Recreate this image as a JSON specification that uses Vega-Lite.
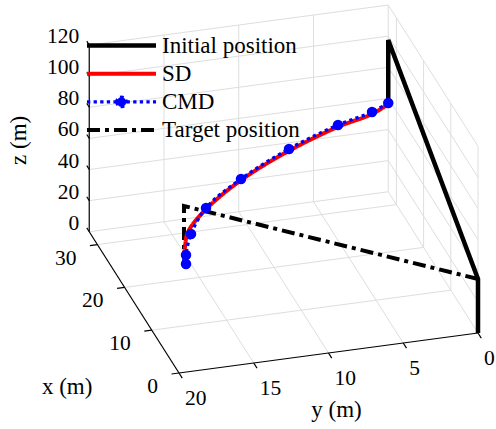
{
  "$schema": "https://vega.github.io/schema/vega-lite/v6.json",
  "width": 496,
  "height": 429,
  "padding": 0,
  "autosize": {"type": "none"},
  "background": "white",
  "config": {"view": {"stroke": null}, "font": "Liberation Serif"},
  "datasets": {
    "grid": [
      {"x1": 10, "y1": 0, "z1": 0, "x2": 10, "y2": 20, "z2": 0},
      {"x1": 20, "y1": 0, "z1": 0, "x2": 20, "y2": 20, "z2": 0},
      {"x1": 30, "y1": 0, "z1": 0, "x2": 30, "y2": 20, "z2": 0},
      {"x1": 0, "y1": 0, "z1": 0, "x2": 33, "y2": 0, "z2": 0},
      {"x1": 0, "y1": 5, "z1": 0, "x2": 33, "y2": 5, "z2": 0},
      {"x1": 0, "y1": 10, "z1": 0, "x2": 33, "y2": 10, "z2": 0},
      {"x1": 0, "y1": 15, "z1": 0, "x2": 33, "y2": 15, "z2": 0},
      {"x1": 33, "y1": 0, "z1": 0, "x2": 33, "y2": 20, "z2": 0},
      {"x1": 33, "y1": 0, "z1": 20, "x2": 33, "y2": 20, "z2": 20},
      {"x1": 33, "y1": 0, "z1": 40, "x2": 33, "y2": 20, "z2": 40},
      {"x1": 33, "y1": 0, "z1": 60, "x2": 33, "y2": 20, "z2": 60},
      {"x1": 33, "y1": 0, "z1": 80, "x2": 33, "y2": 20, "z2": 80},
      {"x1": 33, "y1": 0, "z1": 100, "x2": 33, "y2": 20, "z2": 100},
      {"x1": 33, "y1": 0, "z1": 120, "x2": 33, "y2": 20, "z2": 120},
      {"x1": 33, "y1": 0, "z1": 0, "x2": 33, "y2": 0, "z2": 120},
      {"x1": 33, "y1": 5, "z1": 0, "x2": 33, "y2": 5, "z2": 120},
      {"x1": 33, "y1": 10, "z1": 0, "x2": 33, "y2": 10, "z2": 120},
      {"x1": 33, "y1": 15, "z1": 0, "x2": 33, "y2": 15, "z2": 120},
      {"x1": 0, "y1": 0, "z1": 20, "x2": 33, "y2": 0, "z2": 20},
      {"x1": 0, "y1": 0, "z1": 40, "x2": 33, "y2": 0, "z2": 40},
      {"x1": 0, "y1": 0, "z1": 60, "x2": 33, "y2": 0, "z2": 60},
      {"x1": 0, "y1": 0, "z1": 80, "x2": 33, "y2": 0, "z2": 80},
      {"x1": 0, "y1": 0, "z1": 100, "x2": 33, "y2": 0, "z2": 100},
      {"x1": 0, "y1": 0, "z1": 120, "x2": 33, "y2": 0, "z2": 120},
      {"x1": 0, "y1": 0, "z1": 0, "x2": 0, "y2": 0, "z2": 120},
      {"x1": 10, "y1": 0, "z1": 0, "x2": 10, "y2": 0, "z2": 120},
      {"x1": 20, "y1": 0, "z1": 0, "x2": 20, "y2": 0, "z2": 120},
      {"x1": 30, "y1": 0, "z1": 0, "x2": 30, "y2": 0, "z2": 120}
    ],
    "axes": [
      {"x1": 33, "y1": 20, "z1": 0, "x2": 33, "y2": 20, "z2": 120},
      {"x1": 0, "y1": 20, "z1": 0, "x2": 33, "y2": 20, "z2": 0},
      {"x1": 0, "y1": 0, "z1": 0, "x2": 0, "y2": 20, "z2": 0},
      {"x1": 33, "y1": 20, "z1": 0, "x2": 33.9, "y2": 20, "z2": 0},
      {"x1": 33, "y1": 20, "z1": 20, "x2": 33.9, "y2": 20, "z2": 20},
      {"x1": 33, "y1": 20, "z1": 40, "x2": 33.9, "y2": 20, "z2": 40},
      {"x1": 33, "y1": 20, "z1": 60, "x2": 33.9, "y2": 20, "z2": 60},
      {"x1": 33, "y1": 20, "z1": 80, "x2": 33.9, "y2": 20, "z2": 80},
      {"x1": 33, "y1": 20, "z1": 100, "x2": 33.9, "y2": 20, "z2": 100},
      {"x1": 33, "y1": 20, "z1": 120, "x2": 33.9, "y2": 20, "z2": 120},
      {"x1": 0, "y1": 20, "z1": 0, "x2": 0, "y2": 20.5, "z2": 0},
      {"x1": 10, "y1": 20, "z1": 0, "x2": 10, "y2": 20.5, "z2": 0},
      {"x1": 20, "y1": 20, "z1": 0, "x2": 20, "y2": 20.5, "z2": 0},
      {"x1": 30, "y1": 20, "z1": 0, "x2": 30, "y2": 20.5, "z2": 0},
      {"x1": 0, "y1": 0, "z1": 0, "x2": -1.2, "y2": 0, "z2": 0},
      {"x1": 0, "y1": 5, "z1": 0, "x2": -1.2, "y2": 5, "z2": 0},
      {"x1": 0, "y1": 10, "z1": 0, "x2": -1.2, "y2": 10, "z2": 0},
      {"x1": 0, "y1": 15, "z1": 0, "x2": -1.2, "y2": 15, "z2": 0},
      {"x1": 0, "y1": 20, "z1": 0, "x2": -1.2, "y2": 20, "z2": 0}
    ],
    "zticks": [
      {"x": 33, "y": 20, "z": 0, "label": "0"},
      {"x": 33, "y": 20, "z": 20, "label": "20"},
      {"x": 33, "y": 20, "z": 40, "label": "40"},
      {"x": 33, "y": 20, "z": 60, "label": "60"},
      {"x": 33, "y": 20, "z": 80, "label": "80"},
      {"x": 33, "y": 20, "z": 100, "label": "100"},
      {"x": 33, "y": 20, "z": 120, "label": "120"}
    ],
    "xticks": [
      {"x": 0, "y": 20, "z": 0, "label": "0"},
      {"x": 10, "y": 20, "z": 0, "label": "10"},
      {"x": 20, "y": 20, "z": 0, "label": "20"},
      {"x": 30, "y": 20, "z": 0, "label": "30"}
    ],
    "yticks": [
      {"x": 0, "y": 0, "z": 0, "label": "0"},
      {"x": 0, "y": 5, "z": 0, "label": "5"},
      {"x": 0, "y": 10, "z": 0, "label": "10"},
      {"x": 0, "y": 15, "z": 0, "label": "15"},
      {"x": 0, "y": 20, "z": 0, "label": "20"}
    ],
    "paths": [
      {"series": "Initial position", "i": 0, "x": 0, "y": 0, "z": 0},
      {"series": "Initial position", "i": 1, "x": 0, "y": 0, "z": 34.7},
      {"series": "Initial position", "i": 2, "x": 33, "y": 0, "z": 97.5},
      {"series": "Initial position", "i": 3, "x": 33, "y": 0, "z": 57.0},
      {"series": "Target position", "i": 0, "x": 0, "y": 0, "z": 34.7},
      {"series": "Target position", "i": 1, "x": 19, "y": 16.21, "z": 50.2},
      {"series": "Target position", "i": 2, "x": 19, "y": 16.21, "z": 14},
      {"series": "SD", "i": 0, "x": 33, "y": 0.1, "z": 55.8},
      {"series": "SD", "i": 1, "x": 32, "y": 1.268, "z": 54.3},
      {"series": "SD", "i": 2, "x": 31, "y": 3.724, "z": 52.0},
      {"series": "SD", "i": 3, "x": 30, "y": 7.184, "z": 43.8},
      {"series": "SD", "i": 4, "x": 28, "y": 10.758, "z": 35.0},
      {"series": "SD", "i": 5, "x": 25, "y": 13.645, "z": 28.3},
      {"series": "SD", "i": 6, "x": 22, "y": 15.395, "z": 24.2},
      {"series": "SD", "i": 7, "x": 20, "y": 15.96, "z": 20.8},
      {"series": "SD", "i": 8, "x": 19, "y": 16.209, "z": 15.5},
      {"series": "CMD", "i": 0, "x": 33, "y": 0, "z": 57.0},
      {"series": "CMD", "i": 1, "x": 32, "y": 1.268, "z": 55.6},
      {"series": "CMD", "i": 2, "x": 31, "y": 3.724, "z": 53.2},
      {"series": "CMD", "i": 3, "x": 30, "y": 7.184, "z": 45.0},
      {"series": "CMD", "i": 4, "x": 28, "y": 10.758, "z": 35.8},
      {"series": "CMD", "i": 5, "x": 25, "y": 13.645, "z": 29.1},
      {"series": "CMD", "i": 6, "x": 22, "y": 15.195, "z": 22.6},
      {"series": "CMD", "i": 7, "x": 20, "y": 15.893, "z": 15.5},
      {"series": "CMD", "i": 8, "x": 19, "y": 16.075, "z": 12.7}
    ]
  },
  "layer": [
    {
      "data": {"name": "grid"},
      "transform": [
        {"calculate": "-2.72*datum.x1 - 14.95*datum.y1", "as": "u1"},
        {"calculate": "4.28*datum.x1 - 2*datum.y1 + 1.556*datum.z1", "as": "v1"},
        {"calculate": "-2.72*datum.x2 - 14.95*datum.y2", "as": "u2"},
        {"calculate": "4.28*datum.x2 - 2*datum.y2 + 1.556*datum.z2", "as": "v2"}
      ],
      "mark": {"type": "rule", "stroke": "#dedede", "strokeWidth": 1},
      "encoding": {
        "x": {"field": "u1", "type": "quantitative", "scale": {"domain": [-478, 18], "nice": false, "zero": false}, "axis": null},
        "y": {"field": "v1", "type": "quantitative", "scale": {"domain": [-96, 333], "nice": false, "zero": false}, "axis": null},
        "x2": {"field": "u2"},
        "y2": {"field": "v2"}
      }
    },
    {
      "data": {"name": "axes"},
      "transform": [
        {"calculate": "-2.72*datum.x1 - 14.95*datum.y1", "as": "u1"},
        {"calculate": "4.28*datum.x1 - 2*datum.y1 + 1.556*datum.z1", "as": "v1"},
        {"calculate": "-2.72*datum.x2 - 14.95*datum.y2", "as": "u2"},
        {"calculate": "4.28*datum.x2 - 2*datum.y2 + 1.556*datum.z2", "as": "v2"}
      ],
      "mark": {"type": "rule", "stroke": "black", "strokeWidth": 1.2},
      "encoding": {
        "x": {"field": "u1", "type": "quantitative"},
        "y": {"field": "v1", "type": "quantitative"},
        "x2": {"field": "u2"},
        "y2": {"field": "v2"}
      }
    },
    {
      "data": {"name": "zticks"},
      "transform": [
        {"calculate": "-2.72*datum.x - 14.95*datum.y", "as": "u"},
        {"calculate": "4.28*datum.x - 2*datum.y + 1.556*datum.z", "as": "v"}
      ],
      "mark": {"type": "text", "align": "right", "baseline": "middle", "dx": -10, "dy": -8, "fontSize": 21.5, "font": "Liberation Serif", "color": "black"},
      "encoding": {
        "x": {"field": "u", "type": "quantitative"},
        "y": {"field": "v", "type": "quantitative"},
        "text": {"field": "label"}
      }
    },
    {
      "data": {"name": "xticks"},
      "transform": [
        {"calculate": "-2.72*datum.x - 14.95*datum.y", "as": "u"},
        {"calculate": "4.28*datum.x - 2*datum.y + 1.556*datum.z", "as": "v"}
      ],
      "mark": {"type": "text", "align": "right", "baseline": "middle", "dx": -21, "dy": 14, "fontSize": 21.5, "font": "Liberation Serif", "color": "black"},
      "encoding": {
        "x": {"field": "u", "type": "quantitative"},
        "y": {"field": "v", "type": "quantitative"},
        "text": {"field": "label"}
      }
    },
    {
      "data": {"name": "yticks"},
      "transform": [
        {"calculate": "-2.72*datum.x - 14.95*datum.y", "as": "u"},
        {"calculate": "4.28*datum.x - 2*datum.y + 1.556*datum.z", "as": "v"}
      ],
      "mark": {"type": "text", "align": "left", "baseline": "middle", "dx": 6, "dy": 26, "fontSize": 21.5, "font": "Liberation Serif", "color": "black"},
      "encoding": {
        "x": {"field": "u", "type": "quantitative"},
        "y": {"field": "v", "type": "quantitative"},
        "text": {"field": "label"}
      }
    },
    {
      "data": {"values": [{"x": 33, "y": 20, "z": 60, "label": "z (m)"}]},
      "transform": [
        {"calculate": "-2.72*datum.x - 14.95*datum.y", "as": "u"},
        {"calculate": "4.28*datum.x - 2*datum.y + 1.556*datum.z", "as": "v"}
      ],
      "mark": {"type": "text", "align": "center", "baseline": "middle", "angle": 270, "dx": -2, "dy": -70, "fontSize": 23, "font": "Liberation Serif", "color": "black"},
      "encoding": {
        "x": {"field": "u", "type": "quantitative"},
        "y": {"field": "v", "type": "quantitative"},
        "text": {"field": "label"}
      }
    },
    {
      "data": {"values": [{"x": 16.5, "y": 20, "z": 0, "label": "x (m)"}]},
      "transform": [
        {"calculate": "-2.72*datum.x - 14.95*datum.y", "as": "u"},
        {"calculate": "4.28*datum.x - 2*datum.y + 1.556*datum.z", "as": "v"}
      ],
      "mark": {"type": "text", "align": "center", "baseline": "middle", "dx": -67, "dy": 85, "fontSize": 23, "font": "Liberation Serif", "color": "black"},
      "encoding": {
        "x": {"field": "u", "type": "quantitative"},
        "y": {"field": "v", "type": "quantitative"},
        "text": {"field": "label"}
      }
    },
    {
      "data": {"values": [{"x": 0, "y": 10, "z": 0, "label": "y (m)"}]},
      "transform": [
        {"calculate": "-2.72*datum.x - 14.95*datum.y", "as": "u"},
        {"calculate": "4.28*datum.x - 2*datum.y + 1.556*datum.z", "as": "v"}
      ],
      "mark": {"type": "text", "align": "center", "baseline": "middle", "dx": 8, "dy": 57, "fontSize": 23, "font": "Liberation Serif", "color": "black"},
      "encoding": {
        "x": {"field": "u", "type": "quantitative"},
        "y": {"field": "v", "type": "quantitative"},
        "text": {"field": "label"}
      }
    },
    {
      "data": {"name": "paths"},
      "transform": [
        {"filter": "datum.series === 'Initial position'"},
        {"calculate": "-2.72*datum.x - 14.95*datum.y", "as": "u"},
        {"calculate": "4.28*datum.x - 2*datum.y + 1.556*datum.z", "as": "v"}
      ],
      "mark": {"type": "line", "strokeJoin": "miter", "strokeCap": "butt", "strokeWidth": 4.5},
      "encoding": {
        "x": {"field": "u", "type": "quantitative"},
        "y": {"field": "v", "type": "quantitative"},
        "order": {"field": "i"},
        "color": {
          "field": "series", "type": "nominal",
          "scale": {"domain": ["Initial position", "SD", "CMD", "Target position"], "range": ["black", "red", "blue", "black"]},
          "legend": {
            "orient": "none", "legendX": 110, "legendY": 34, "title": null, "padding": 0,
            "symbolType": "stroke", "symbolSize": 100, "labelFont": "Liberation Serif", "labelFontSize": 23,
            "labelColor": "black", "labelOffset": 29, "rowPadding": 4.2, "labelLimit": 300,
            "encode": {"symbols": {"update": {
              "shape": {"signal": "datum.value === 'CMD' ? 'M-6.9,0L6.9,0M-0.95,0A0.95,0.95,0,1,0,0.95,0A0.95,0.95,0,1,0,-0.95,0Z' : 'M-6.9,0L6.9,0'"},
              "fill": {"signal": "datum.value === 'CMD' ? 'blue' : 'transparent'"},
              "strokeWidth": {"signal": "datum.value === 'Initial position' ? 4.5 : datum.value === 'SD' ? 4 : datum.value === 'CMD' ? 3.3 : 4"}
            }}}
          }
        },
        "strokeDash": {
          "field": "series", "type": "nominal",
          "scale": {"domain": ["Initial position", "SD", "CMD", "Target position"], "range": [[1, 0], [1, 0], [3.3, 3.3], [13, 5, 4, 5]]}
        }
      }
    },
    {
      "data": {"name": "paths"},
      "transform": [
        {"filter": "datum.series === 'Target position'"},
        {"calculate": "-2.72*datum.x - 14.95*datum.y", "as": "u"},
        {"calculate": "4.28*datum.x - 2*datum.y + 1.556*datum.z", "as": "v"}
      ],
      "mark": {"type": "line", "strokeJoin": "miter", "strokeCap": "butt", "strokeWidth": 4},
      "encoding": {
        "x": {"field": "u", "type": "quantitative"},
        "y": {"field": "v", "type": "quantitative"},
        "order": {"field": "i"},
        "color": {"field": "series", "type": "nominal"},
        "strokeDash": {"field": "series", "type": "nominal"}
      }
    },
    {
      "data": {"name": "paths"},
      "transform": [
        {"filter": "datum.series === 'SD'"},
        {"calculate": "-2.72*datum.x - 14.95*datum.y", "as": "u"},
        {"calculate": "4.28*datum.x - 2*datum.y + 1.556*datum.z", "as": "v"}
      ],
      "mark": {"type": "line", "interpolate": "catmull-rom", "strokeCap": "butt", "strokeWidth": 4},
      "encoding": {
        "x": {"field": "u", "type": "quantitative"},
        "y": {"field": "v", "type": "quantitative"},
        "order": {"field": "i"},
        "color": {"field": "series", "type": "nominal"},
        "strokeDash": {"field": "series", "type": "nominal"}
      }
    },
    {
      "data": {"name": "paths"},
      "transform": [
        {"filter": "datum.series === 'CMD'"},
        {"calculate": "-2.72*datum.x - 14.95*datum.y", "as": "u"},
        {"calculate": "4.28*datum.x - 2*datum.y + 1.556*datum.z", "as": "v"}
      ],
      "mark": {"type": "line", "interpolate": "catmull-rom", "strokeCap": "butt", "strokeWidth": 3.3},
      "encoding": {
        "x": {"field": "u", "type": "quantitative"},
        "y": {"field": "v", "type": "quantitative"},
        "order": {"field": "i"},
        "color": {"field": "series", "type": "nominal"},
        "strokeDash": {"field": "series", "type": "nominal"}
      }
    },
    {
      "data": {"name": "paths"},
      "transform": [
        {"filter": "datum.series === 'CMD'"},
        {"calculate": "-2.72*datum.x - 14.95*datum.y", "as": "u"},
        {"calculate": "4.28*datum.x - 2*datum.y + 1.556*datum.z", "as": "v"}
      ],
      "mark": {"type": "point", "filled": true, "size": 110, "color": "blue", "opacity": 1},
      "encoding": {
        "x": {"field": "u", "type": "quantitative"},
        "y": {"field": "v", "type": "quantitative"}
      }
    }
  ]
}
